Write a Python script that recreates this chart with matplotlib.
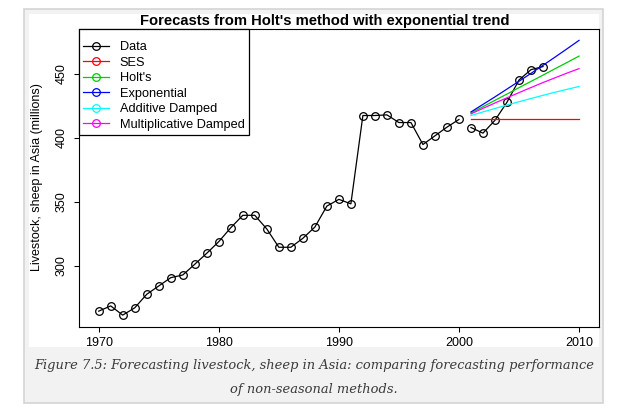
import numpy as np
import matplotlib
matplotlib.use("Agg")
from matplotlib import pyplot
from matplotlib.patches import Rectangle

# observed series (1970-2000 training, 2001-2007 test)
train_years = list(range(1970, 2001))
train_values = [264.4, 268.5, 261.3, 267.0, 277.6, 284.1, 290.6, 292.7, 301.1, 309.7,
                318.8, 329.7, 339.4, 339.4, 328.7, 314.4, 314.4, 321.4, 330.2, 346.6,
                351.9, 348.4, 417.5, 417.5, 418.0, 412.0, 412.0, 394.8, 401.6, 408.4,
                414.4]
test_years = list(range(2001, 2008))
test_values = [408.1, 403.7, 413.8, 427.9, 445.3, 453.4, 455.8]

# forecasts 2001-2010
fc_years = list(range(2001, 2011))
fc_ses = [414.4, 414.4, 414.4, 414.4, 414.4, 414.4, 414.4, 414.4, 414.4, 414.4]
fc_holt = [419.5, 424.4, 429.4, 434.3, 439.3, 444.2, 449.1, 454.1, 459.0, 464.0]
fc_exp = [420.3, 426.2, 432.1, 438.2, 444.3, 450.5, 456.8, 463.2, 469.7, 476.3]
fc_add_damped = [417.5, 420.3, 423.0, 425.7, 428.3, 430.8, 433.3, 435.7, 438.0, 440.2]
fc_mult_damped = [418.8, 423.1, 427.3, 431.4, 435.4, 439.4, 443.3, 447.0, 450.7, 454.2]

labels = ["Data", "SES", "Holt's", "Exponential", "Additive Damped", "Multiplicative Damped"]
colors = ["black", "red", "#00cd00", "blue", "cyan", "magenta"]

W, H = 644, 409
pyplot.rcParams["font.family"] = ["Liberation Sans", "DejaVu Sans"]

fig = pyplot.figure(figsize=(W / 100, H / 100), dpi=100)


def fx(px):
    return px / W


def fy(py):
    return 1 - py / H


# page frame: grey box with border, white chart area, caption strip
fig.patches.append(Rectangle((fx(24), fy(403)), fx(603) - fx(24), fy(9) - fy(403),
                             transform=fig.transFigure, facecolor="#f2f2f2",
                             edgecolor="#d4d4d4", linewidth=1.2, zorder=-3))
fig.patches.append(Rectangle((fx(29), fy(347)), fx(599) - fx(29), fy(14) - fy(347),
                             transform=fig.transFigure, facecolor="white",
                             edgecolor="none", zorder=-2))

ax = fig.add_axes([fx(79), fy(327), fx(598.5) - fx(79), fy(29) - fy(327)])
ax.set_facecolor("none")

mk = dict(marker="o", markersize=5.5, markerfacecolor="none", markeredgewidth=0.9,
          linewidth=0.9)
ax.plot(train_years, train_values, color="black", **mk)
ax.plot(test_years, test_values, color="black", **mk)

for series, c in zip([fc_ses, fc_holt, fc_exp, fc_add_damped, fc_mult_damped], colors[1:]):
    ax.plot(fc_years, series, color=c, linewidth=0.9)

ax.set_xlim(1968.36, 2011.62)
ax.set_ylim(252.0, 485.2)
ax.set_xticks([1970, 1980, 1990, 2000, 2010])
ax.set_yticks([300, 350, 400, 450])
ax.tick_params(axis="both", direction="out", length=3.6, width=0.75, labelsize=9)
ax.tick_params(axis="x", pad=3.5)
ax.tick_params(axis="y", pad=4.5)
for lab in ax.get_yticklabels():
    lab.set_rotation(90)
    lab.set_va("center")
for s in ax.spines.values():
    s.set_linewidth(0.8)

ax.set_ylabel("Livestock, sheep in Asia (millions)", fontsize=9)
ax.yaxis.set_label_coords((43 - 79) / 519.5, 0.503)

handles = [pyplot.Line2D([], [], color=c, **mk) for c in colors]
leg = ax.legend(handles, labels, loc="upper left", bbox_to_anchor=(0, 1),
                borderaxespad=0, fancybox=False, edgecolor="black", framealpha=1,
                fontsize=9.2, handlelength=2.0, handletextpad=0.85,
                labelspacing=0.28, borderpad=0.35, title=" ", title_fontsize=3)
leg.get_frame().set_linewidth(0.9)

fig.text(fx(324.5), fy(25.5), "Forecasts from Holt's method with exponential trend",
         ha="center", va="baseline", fontsize=10.65, fontweight="bold")

cap_kw = dict(ha="center", va="baseline", fontsize=9.4, style="italic",
              family="DejaVu Serif", color="#3a3a3a")
fig.text(fx(314), fy(369), "Figure 7.5: Forecasting livestock, sheep in Asia: "
         "comparing forecasting performance", **cap_kw)
fig.text(fx(314), fy(393), "of non-seasonal methods.", **cap_kw)

fig.savefig("out.png", dpi=100)
